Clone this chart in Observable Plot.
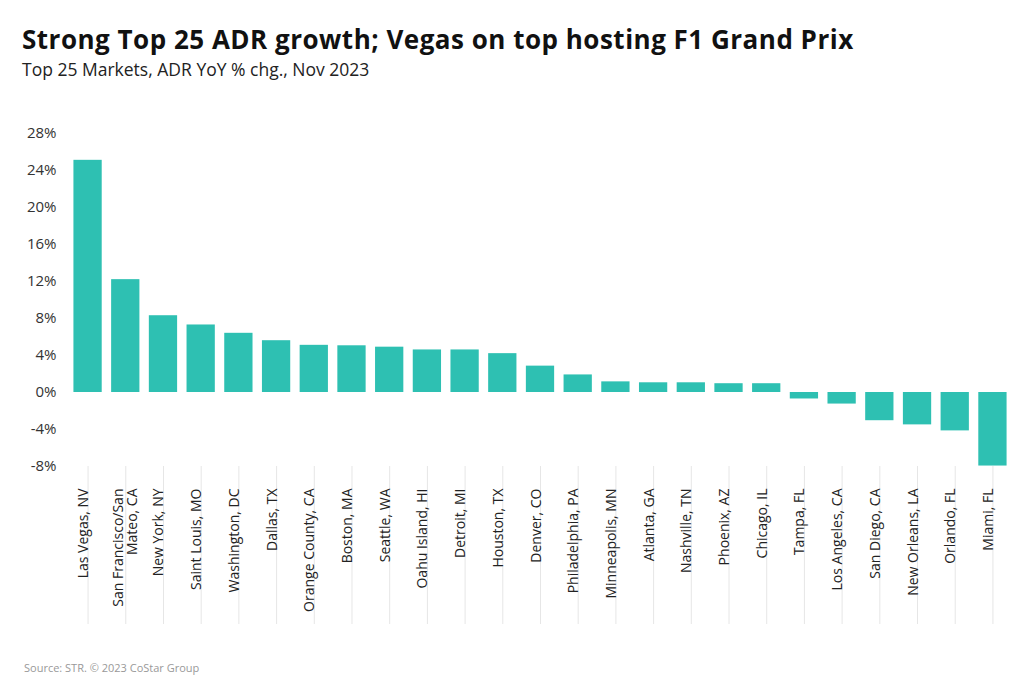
<!DOCTYPE html>
<html><head><meta charset="utf-8">
<script src="https://cdn.jsdelivr.net/npm/d3@7"></script>
<script src="https://cdn.jsdelivr.net/npm/@observablehq/plot@0.6"></script>
<style>
body{margin:0;background:#fff;font-family:"Open Sans",sans-serif;width:1024px;height:700px;position:relative;overflow:hidden;}
#title{position:absolute;left:22px;top:22px;font-size:26px;font-weight:700;letter-spacing:0.5px;color:#111;white-space:nowrap;line-height:1.362;}
#subtitle{position:absolute;left:22px;top:58px;font-size:17.5px;color:#222;white-space:nowrap;line-height:1.362;}
#chart{position:absolute;left:0;top:100px;}
#source{position:absolute;left:24px;top:660px;font-size:11px;color:#999;white-space:nowrap;}
</style></head>
<body>
<div id="title">Strong Top 25 ADR growth; Vegas on top hosting F1 Grand Prix</div>
<div id="subtitle">Top 25 Markets, ADR YoY % chg., Nov 2023</div>
<div id="chart"></div>
<div id="source">Source: STR. © 2023 CoStar Group</div>
<script>
const markets = ["Las Vegas, NV","San Francisco/San\nMateo, CA","New York, NY","Saint Louis, MO","Washington, DC","Dallas, TX","Orange County, CA","Boston, MA","Seattle, WA","Oahu Island, HI","Detroit, MI","Houston, TX","Denver, CO","Philadelphia, PA","Minneapolis, MN","Atlanta, GA","Nashville, TN","Phoenix, AZ","Chicago, IL","Tampa, FL","Los Angeles, CA","San Diego, CA","New Orleans, LA","Orlando, FL","Miami, FL"];
const adrChange = [25.1,12.2,8.3,7.3,6.4,5.6,5.1,5.05,4.9,4.6,4.6,4.2,2.85,1.9,1.15,1.05,1.05,0.95,0.95,-0.7,-1.25,-3.05,-3.5,-4.15,-7.95];
const yTicks = [-8,-4,0,4,8,12,16,20,24,28];

const data = markets.map((m,i)=>({market:m, value:adrChange[i]}));
const singleLine = markets.filter(m => !m.includes("\n"));
const multiLine = markets.filter(m => m.includes("\n"));
const labelOpts = {tickSize:0, tickPadding:22, tickRotate:-90, textAnchor:"end", fontSize:14, fill:"#222", label:null};
const chart = Plot.plot({
  width:1024, height:550,
  marginTop:33, marginBottom:184, marginLeft:64, marginRight:8,
  style:{fontFamily:"'Open Sans', sans-serif", fontSize:"14px", color:"#333", background:"white"},
  x:{domain:markets, padding:0.25, round:false, label:null},
  y:{domain:[-8,28], label:null},
  marks:[
    Plot.axisY({ticks:yTicks, tickSize:0, tickPadding:8, tickFormat:d=>d+"%", fontSize:15, fill:"#333", label:null}),
    Plot.axisX({tickSize:158, stroke:"#e6e6e6", tickFormat:()=>"", label:null}),
    Plot.barY(data, {x:"market", y:"value", fill:"#2ec0b2"}),
    Plot.axisX(singleLine, {...labelOpts, lineAnchor:"bottom"}),
    Plot.axisX(multiLine, {...labelOpts, lineAnchor:"middle"})
  ]
});
document.getElementById("chart").appendChild(chart);
</script>
</body></html>
